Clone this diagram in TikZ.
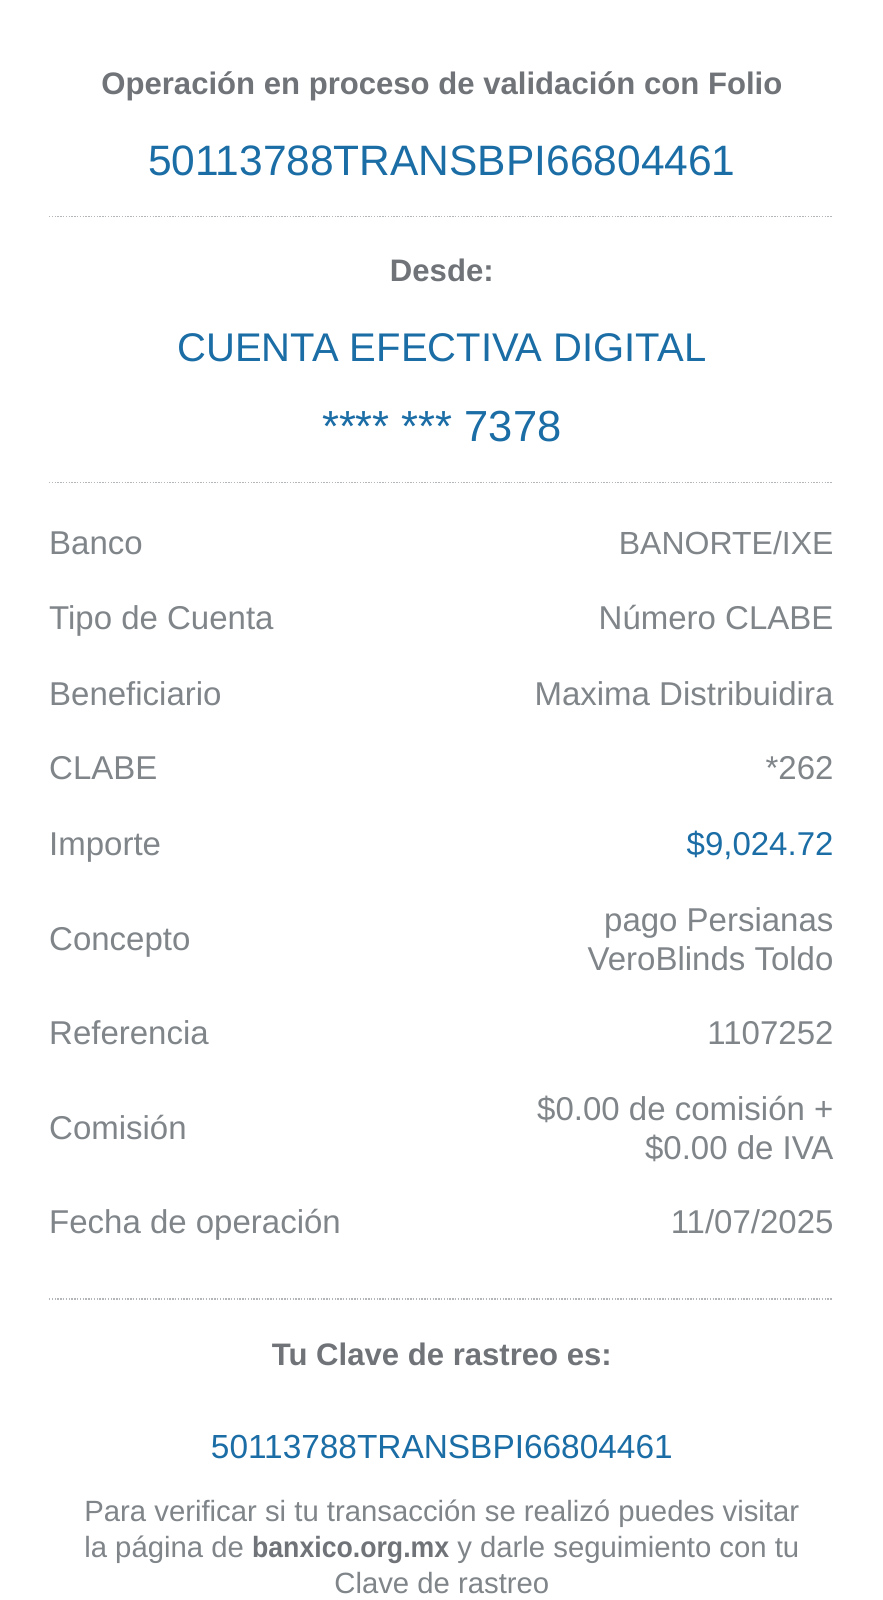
\documentclass[tikz,border=0pt]{standalone}
\usepackage{fontspec}
\setmainfont{Liberation Sans}
\definecolor{headgray}{HTML}{707479}
\definecolor{labelgray}{HTML}{80858A}
\definecolor{folioblue}{HTML}{1B6DA6}
\definecolor{dotgray}{HTML}{B4B7BA}
\tikzset{
  head/.style={inner sep=0pt, anchor=base, text=headgray, font=\fontsize{31.1}{37}\selectfont\bfseries},
  bluetxt/.style={inner sep=0pt, anchor=base, text=folioblue},
  lbl/.style={inner sep=0pt, anchor=base west, text=labelgray, font=\fontsize{33}{39}\selectfont},
  val/.style={inner sep=0pt, anchor=base east, text=labelgray, align=right, font=\fontsize{33}{39}\selectfont},
  sep/.style={dotgray, line width=1.3pt, dash pattern=on 1.4pt off 1.4pt}
}
\begin{document}
\begin{tikzpicture}[x=1.0204pt, y=-1.0204pt]
\useasboundingbox[fill=white] (0,0) rectangle (865.3,1568);
% encabezado
\node[head] (titulo) at (433,93) {Operación en proceso de validación con Folio};
\node[bluetxt, font=\fontsize{42.5}{50}\selectfont] (folio) at (433,172) {50113788TRANSBPI66804461};
\draw[sep] (48,212) -- (815,212);
\node[head] (desde) at (433,276) {Desde:};
\node[bluetxt, font=\fontsize{40}{48}\selectfont] (cuenta) at (433,354) {CUENTA EFECTIVA DIGITAL};
\node[bluetxt, font=\fontsize{43.5}{50}\selectfont] (numcta) at (433,433) {**** *** 7378};
\draw[sep] (48,473) -- (815,473);
% detalle
\node[lbl] (lbanco) at (48,543) {Banco};
\node[val, font=\fontsize{32}{39}\selectfont] (vbanco) at (817,543) {BANORTE/IXE};
\node[lbl] (ltipo) at (48,617) {Tipo de Cuenta};
\node[val] (vtipo) at (817,617) {Número CLABE};
\node[lbl] (lbenef) at (48,691) {Beneficiario};
\node[val] (vbenef) at (817,691) {Maxima Distribuidira};
\node[lbl] (lclabe) at (48,764) {CLABE};
\node[val] (vclabe) at (817,764) {*262};
\node[lbl] (limporte) at (48,838) {Importe};
\node[val, text=folioblue] (vimporte) at (817,838) {\$9,024.72};
\node[lbl] (lconcepto) at (48,931) {Concepto};
\node[val] (vconcepto) at (817,951) {pago Persianas\\VeroBlinds Toldo};
\node[lbl] (lref) at (48,1024) {Referencia};
\node[val] (vref) at (817,1024) {1107252};
\node[lbl] (lcomision) at (48,1117) {Comisión};
\node[val] (vcomision) at (817,1136) {\$0.00 de comisión +\\\$0.00 de IVA};
\node[lbl] (lfecha) at (48,1209) {Fecha de operación};
\node[val] (vfecha) at (817,1209) {11/07/2025};
\draw[sep] (48,1273) -- (815,1273);
% rastreo
\node[head] (tuclave) at (433,1338) {Tu Clave de rastreo es:};
\node[bluetxt, font=\fontsize{33.4}{40}\selectfont] (clave) at (433,1429) {50113788TRANSBPI66804461};
\node[inner sep=0pt, anchor=base, align=center, text=labelgray, font=\fontsize{29.3}{36}\selectfont] (aviso) at (433,1562)
  {Para verificar si tu transacción se realizó puedes visitar\\la página de \textcolor{headgray}{\scalebox{0.91}[1]{\bfseries banxico.org.mx}} y darle seguimiento con tu\\Clave de rastreo};
\end{tikzpicture}
\end{document}
